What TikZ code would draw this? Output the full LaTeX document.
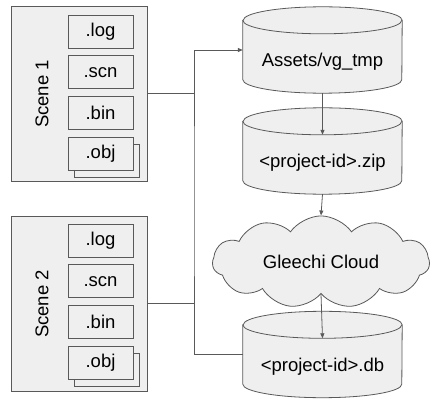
\documentclass[tikz,border=0pt]{standalone}
\usepackage{fontspec}
\setmainfont{Liberation Sans}
\usetikzlibrary{shapes.symbols, shadows, arrows.meta, positioning, backgrounds}
\definecolor{boxgray}{HTML}{EFEFEF}
\definecolor{linegray}{HTML}{595959}
\tikzset{
  scene/.style={rectangle, draw=linegray, fill=boxgray, line width=0.8pt,
                minimum width=136pt, minimum height=175pt},
  file/.style={rectangle, draw=linegray, fill=boxgray, line width=0.8pt,
               minimum width=65pt, minimum height=33pt, inner sep=0pt},
  files/.style={file, copy shadow={shadow xshift=6pt, shadow yshift=-7pt,
                draw=linegray, fill=boxgray, line width=0.8pt}},
  % a rectangle that holds the place of a drum; the drum itself is drawn by \can
  store/.style={rectangle, minimum width=159pt, minimum height=86pt,
                inner sep=0pt, text height=37pt, text depth=4pt},
  canline/.style={draw=linegray, fill=boxgray, line width=0.8pt},
  cloudy/.style={cloud, cloud puffs=11, cloud puff arc=110, aspect=2.5,
                 draw=linegray, fill=boxgray, line width=0.8pt,
                 minimum width=217pt, minimum height=85pt},
  conn/.style={draw=linegray, line width=0.8pt},
  arr/.style={conn, -{Triangle[length=5pt, width=4pt]}},
}
% drum outline round a store node
\newcommand{\can}[1]{%
  \path[canline] ([yshift=-13.5pt]#1.north west) -- ([yshift=13.5pt]#1.south west)
    arc[start angle=180, end angle=360, x radius=79.5pt, y radius=13.5pt]
    -- ([yshift=-13.5pt]#1.north east)
    arc[start angle=0, end angle=180, x radius=79.5pt, y radius=13.5pt] -- cycle;
  \draw[canline, fill=none] ([yshift=-13.5pt]#1.north west)
    arc[start angle=180, end angle=360, x radius=79.5pt, y radius=13.5pt];
}

\begin{document}
\begin{tikzpicture}[x=1pt, y=-1pt, font=\fontsize{18.5}{21}\selectfont]
  \useasboundingbox (0,0) rectangle (437,409);
  % scene 1
  \node[scene] (sc1) at (79,93.5) {};
  \node[rotate=90] (lbl1) at (42,94) {Scene 1};
  \node[file] (log1) at (100.5,31.5) {.log};
  \node[file, below=7pt of log1] (scn1) {.scn};
  \node[file, below=7pt of scn1] (bin1) {.bin};
  \node[files, below=7pt of bin1] (obj1) {.obj};
  % scene 2
  \node[scene] (sc2) at (79,303.5) {};
  \node[rotate=90] (lbl2) at (42,304) {Scene 2};
  \node[file] (log2) at (100.5,240.5) {.log};
  \node[file, below=7pt of log2] (scn2) {.scn};
  \node[file, below=7pt of scn2] (bin2) {.bin};
  \node[files, below=7pt of bin2] (obj2) {.obj};
  % storage
  \node[store] (assets) at (322.5,50) {Assets/vg\_tmp};
  \node[store] (zip) at (322.5,151) {<project-id>.zip};
  \node[cloudy] (gcloud) at (321,262) {Gleechi Cloud};
  \node[store] (db) at (322.5,354.5) {<project-id>.db};
  \begin{scope}[on background layer]
    \can{assets} \can{zip} \can{db}
  \end{scope}
  \coordinate (zip in) at ([yshift=-27pt]zip.north);
  \coordinate (db in) at ([yshift=-27pt]db.north);
  \coordinate (bus) at (194,200);
  % connectors
  \draw[arr] (db.west) -| (bus) |- (assets.west);
  \draw[conn] (sc1.east) -- (sc1.east -| bus);
  \draw[conn] (sc2.east) -- (sc2.east -| bus);
  \draw[arr] (assets.south) -- (zip in);
  \draw[arr] (zip.south) -- (gcloud.north);
  \draw[arr] (gcloud.south) -- (db in);
\end{tikzpicture}
\end{document}
